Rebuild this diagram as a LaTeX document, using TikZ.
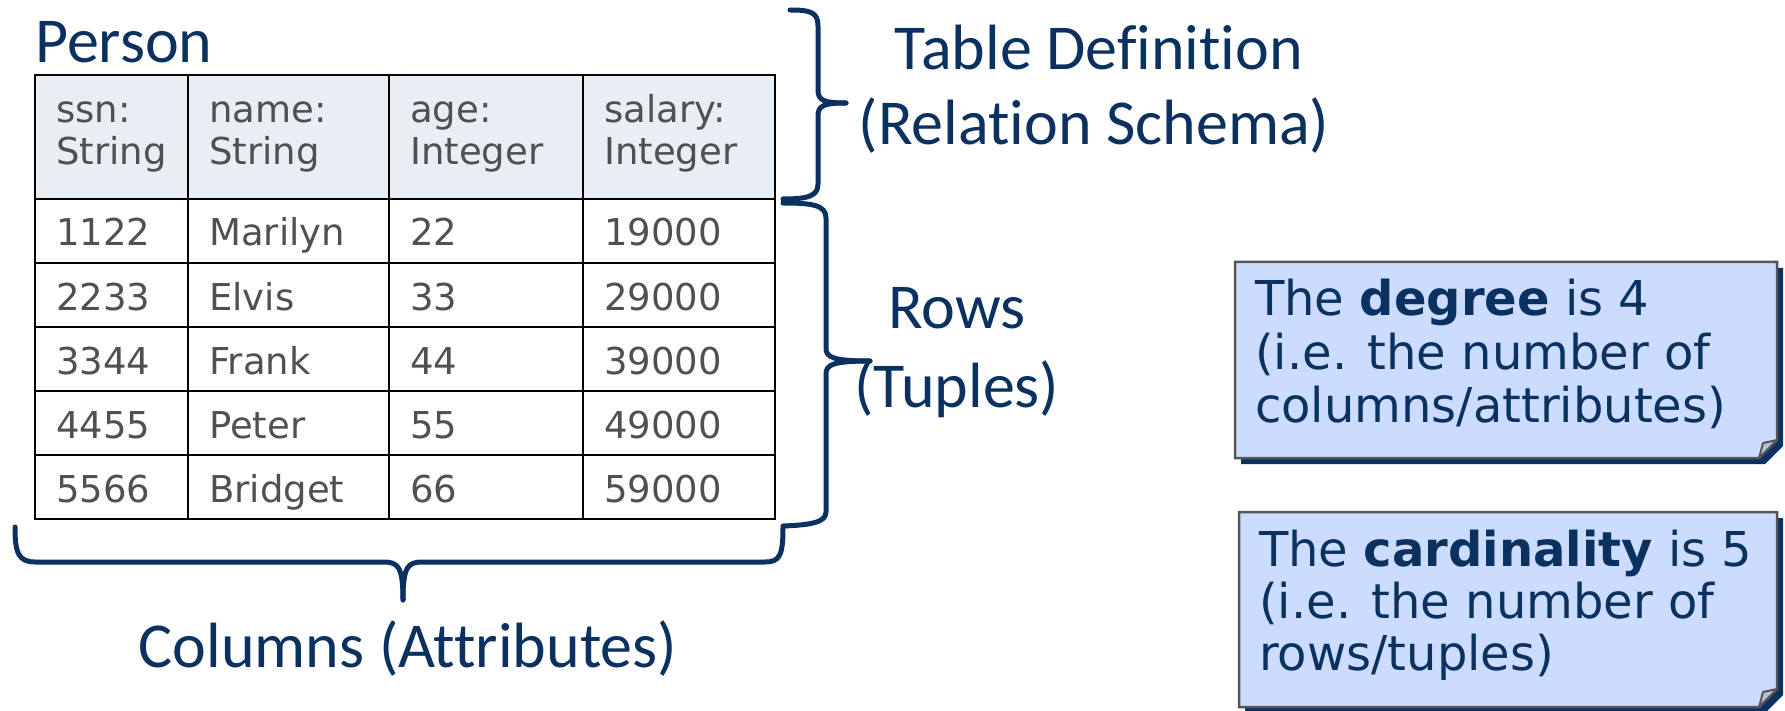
\documentclass[tikz,border=0pt]{standalone}
\usepackage{fontspec}
\setmainfont{Carlito}[Ligatures=NoCommon]
\newfontfamily\cellfont{DejaVu Sans}
\newfontfamily\notefont{DejaVu Sans}
\definecolor{navy}{HTML}{0B3160}
\definecolor{headfill}{HTML}{E8EEF3}
\definecolor{cellgray}{HTML}{505050}
\definecolor{notefill}{HTML}{CCDCFF}
\definecolor{noteborder}{HTML}{555555}
\definecolor{foldfill}{HTML}{B8C2D4}
\tikzset{
  grid/.style={draw=black, line width=2.5pt},
  cell/.style={anchor=base west, inner sep=0pt, font=\cellfont\fontsize{37}{37}\selectfont, text=cellgray},
  lbl/.style={anchor=base, inner sep=0pt, font=\fontsize{64}{64}\selectfont, text=navy},
  notetext/.style={anchor=base west, inner sep=0pt, font=\notefont\fontsize{48}{48}\selectfont, text=navy},
  brace/.style={draw=navy, line width=5pt, line cap=round, line join=round},
  notebox/.style={fill=notefill, draw=noteborder, line width=2.5pt, line join=miter},
  noteshadow/.style={fill=navy},
  fold/.style={fill=foldfill, draw=noteborder, line width=2pt, line join=round}
}
\begin{document}
\begin{tikzpicture}[x=1pt,y=-1pt]
\useasboundingbox (0,0) rectangle (1785,711);
% title
\node[anchor=base west, inner sep=0pt, font=\fontsize{64}{64}\selectfont, text=navy] (person) at (35,63) {Person};
% table
\fill[headfill] (35,75) rectangle (775,199);
\draw[grid] (35,75) rectangle (775,519);
\foreach \x in {188,389,583} \draw[grid] (\x,75) -- (\x,519);
\foreach \y in {199,263,327,391,455} \draw[grid] (35,\y) -- (775,\y);
% header
\node[cell] (h1a) at (56,123) {ssn:};
\node[cell] (h1b) at (56,165) {String};
\node[cell] (h2a) at (209,123) {name:};
\node[cell] (h2b) at (209,165) {String};
\node[cell] (h3a) at (410,123) {age:};
\node[cell] (h3b) at (410,165) {Integer};
\node[cell] (h4a) at (604,123) {salary:};
\node[cell] (h4b) at (604,165) {Integer};
% rows
\foreach \a/\b/\c/\d [count=\i] in {1122/Marilyn/22/19000,2233/Elvis/33/29000,3344/Frank/44/39000,4455/Peter/55/49000,5566/Bridget/66/59000}{
  \pgfmathsetmacro\yy{199+64*(\i-1)+47}
  \node[cell] (r\i c1) at (56,\yy) {\a};
  \node[cell] (r\i c2) at (209,\yy) {\b};
  \node[cell] (r\i c3) at (410,\yy) {\c};
  \node[cell] (r\i c4) at (604,\yy) {\d};
}
% brace: table definition
\draw[brace] (790,10) .. controls (810,10) and (818,12) .. (818,26) -- (818,90) .. controls (818,100) and (823,103) .. (846,103);
\draw[brace] (846,103) .. controls (823,103) and (818,106) .. (818,116) -- (818,184) .. controls (818,196) and (808,199) .. (783,199);
\node[lbl] (td1) at (1099,70) {Table Definition};
\node[lbl] (td2) at (1094,145) {(Relation Schema)};
% brace: rows
\draw[brace] (783,203) .. controls (812,203) and (826,205) .. (826,218) -- (826,348) .. controls (826,357) and (832,361) .. (870,361);
\draw[brace] (870,361) .. controls (832,361) and (826,365) .. (826,374) -- (826,512) .. controls (826,522) and (812,525) .. (783,526);
\node[lbl] (rw1) at (957,328) {Rows};
\node[lbl] (rw2) at (957,407) {(Tuples)};
% brace: columns
\draw[brace] (15,527) .. controls (15,552) and (18,562) .. (35,562) -- (383,562) .. controls (398,562) and (403,566) .. (403,600);
\draw[brace] (403,600) .. controls (403,566) and (408,562) .. (423,562) -- (765,562) .. controls (780,562) and (783,555) .. (783,527);
\node[lbl] (cols) at (408,667) {Columns (Attributes)};
% note 1
\fill[noteshadow] (1241,268) -- (1783,268) -- (1783,446) -- (1765,464) -- (1241,464) -- cycle;
\draw[notebox] (1235,262) -- (1777,262) -- (1777,440) -- (1759,458) -- (1235,458) -- cycle;
\draw[fold] (1759,458) -- (1763,443) -- (1777,440) -- cycle;
\node[notetext] (n1a) at (1255,316) {The \textbf{degree} is 4};
\node[notetext] (n1b) at (1255,369) {(i.e. the number of};
\node[notetext] (n1c) at (1255,422) {columns/attributes)};
% note 2
\fill[noteshadow] (1245,518) -- (1783,518) -- (1783,695) -- (1765,713) -- (1245,713) -- cycle;
\draw[notebox] (1239,512) -- (1777,512) -- (1777,689) -- (1759,707) -- (1239,707) -- cycle;
\draw[fold] (1759,707) -- (1763,692) -- (1777,689) -- cycle;
\node[notetext] (n2a) at (1259,566) {The \textbf{cardinality} is 5};
\node[notetext] (n2b) at (1259,618) {(i.e. the number of};
\node[notetext] (n2c) at (1259,670) {rows/tuples)};
\end{tikzpicture}
\end{document}
